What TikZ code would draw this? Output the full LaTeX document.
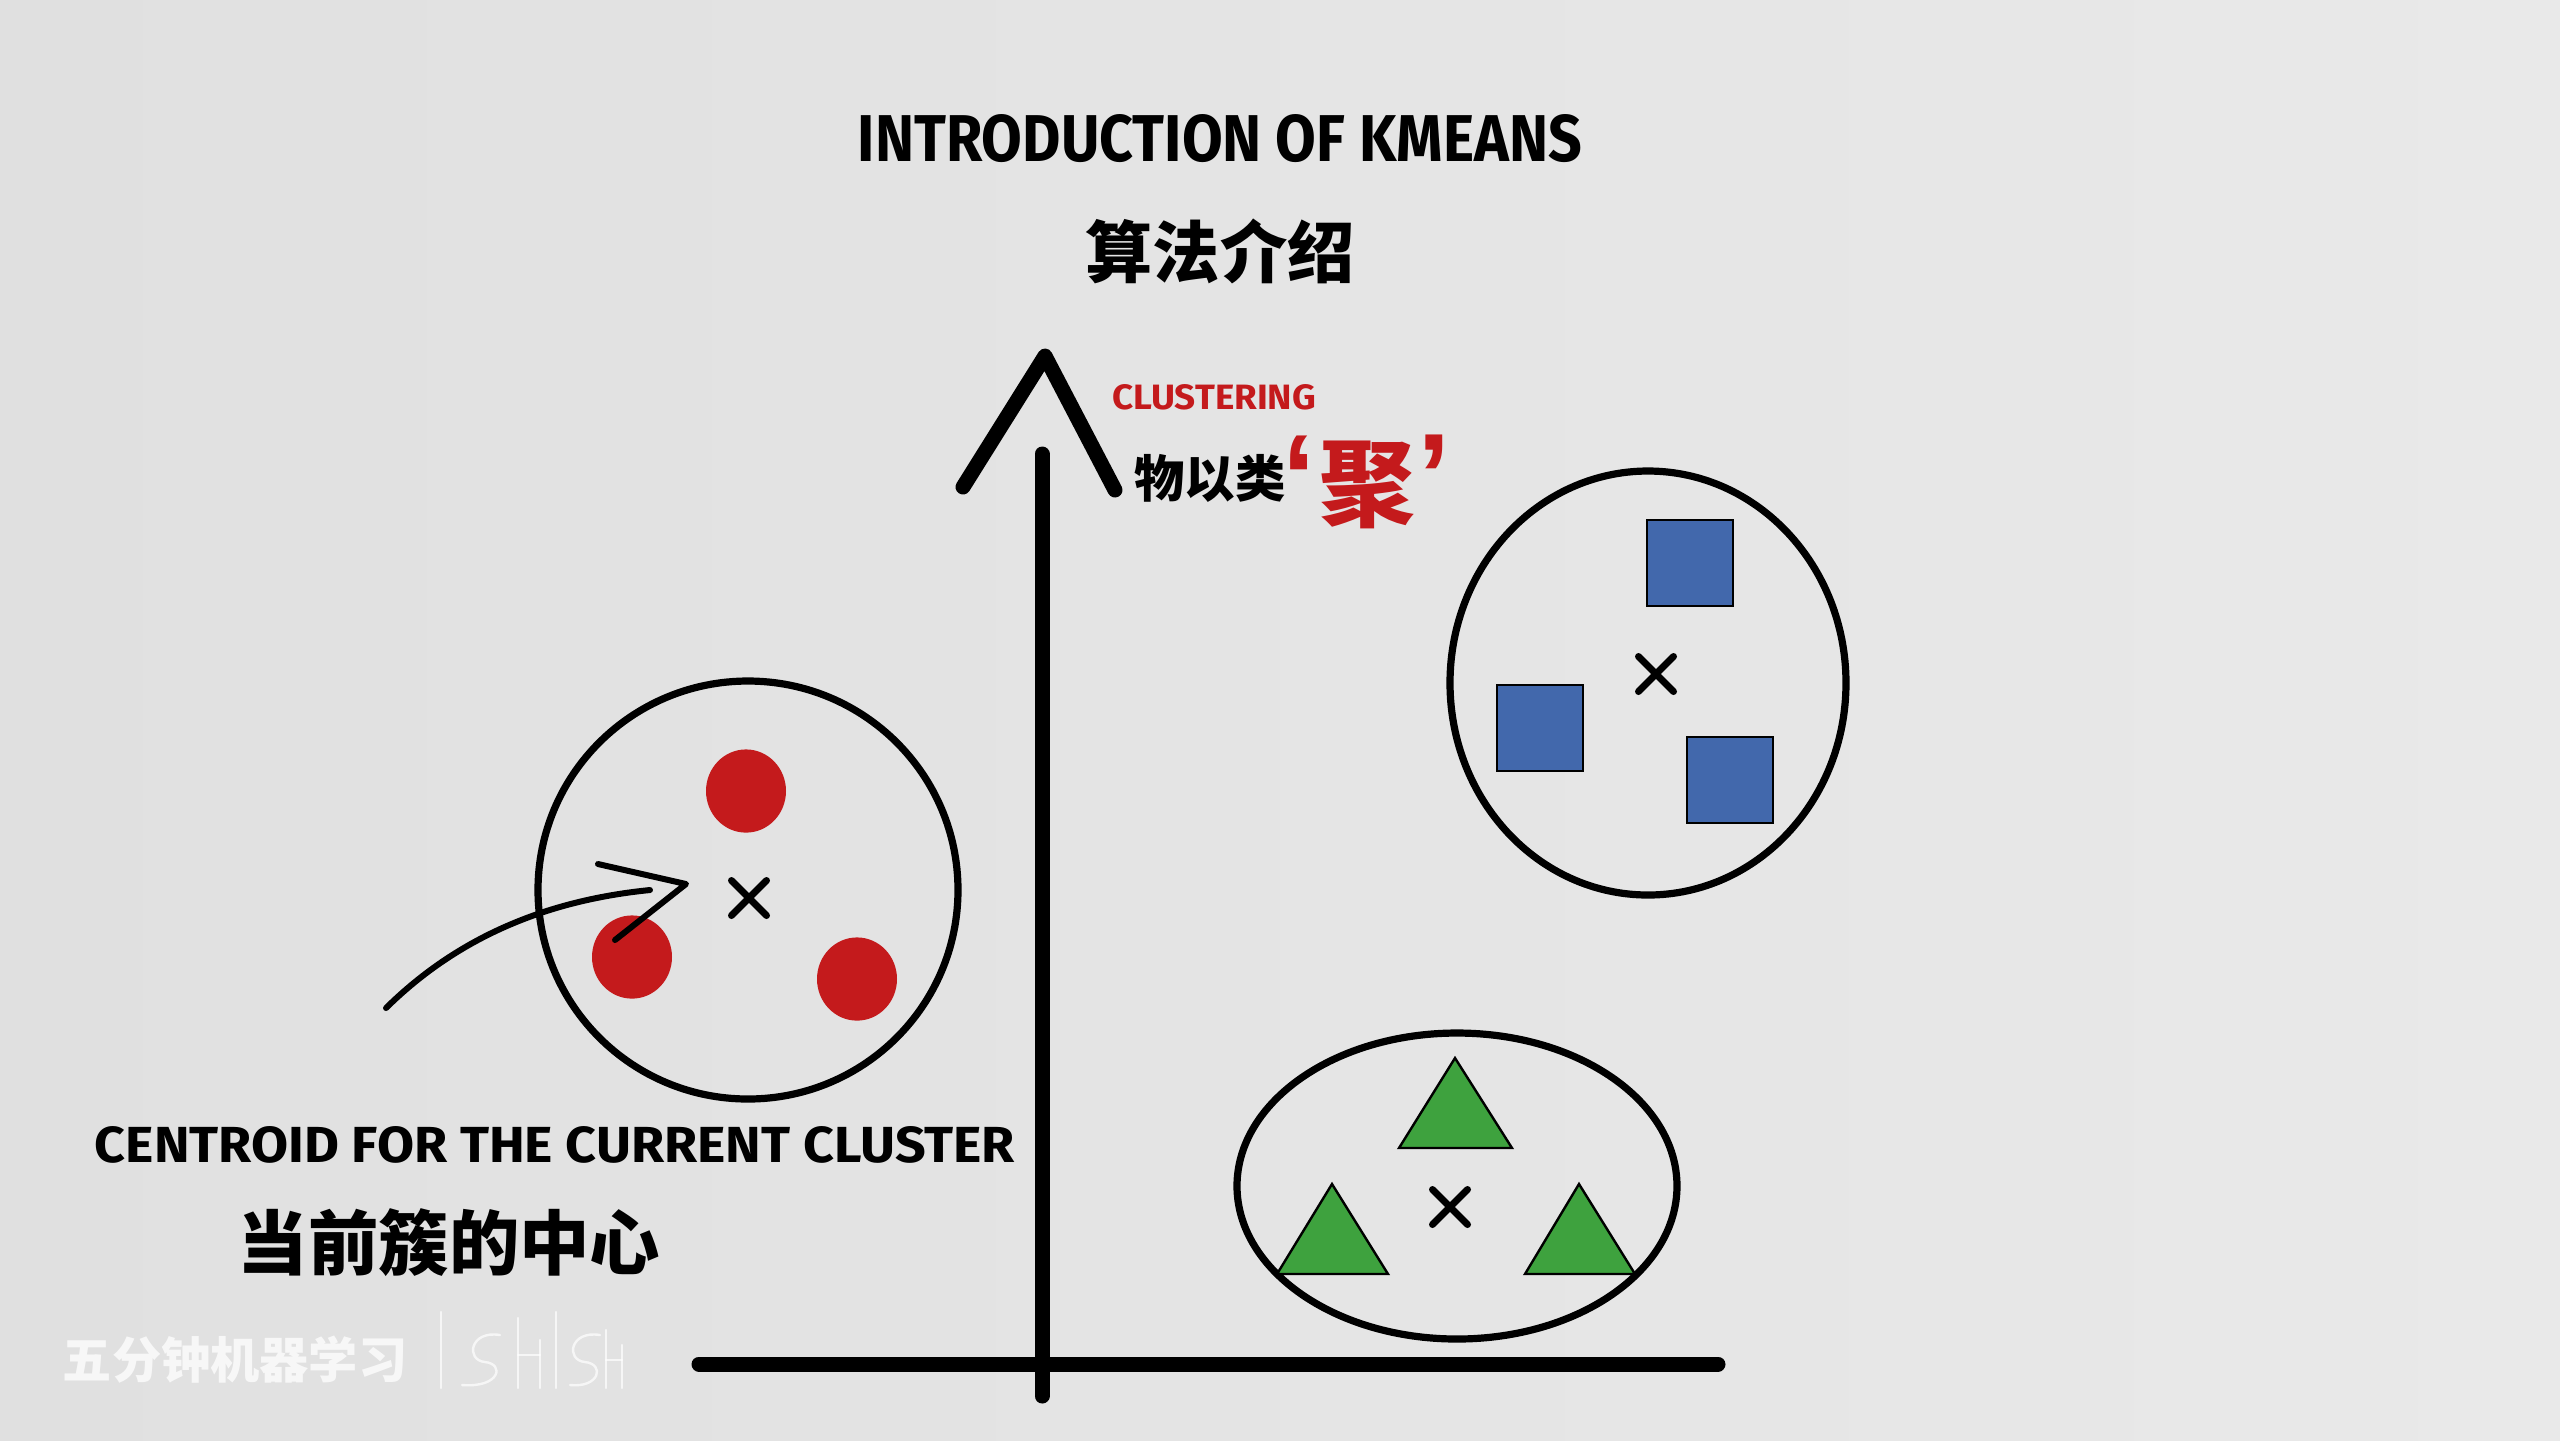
\documentclass[tikz,border=0pt]{standalone}
\usepackage{fontspec}
\usepackage{graphicx}
\setmainfont{Fira Sans}
\newfontfamily\cjk{Noto Sans CJK SC}[BoldFont={Noto Sans CJK SC Black}]
\usetikzlibrary{shapes.misc,shapes.geometric}
\definecolor{bgl}{RGB}{224,224,224}
\definecolor{bgr}{RGB}{233,233,233}
\definecolor{kred}{RGB}{196,26,28}
\definecolor{kblue}{RGB}{66,104,172}
\definecolor{kgreen}{RGB}{62,162,62}
\tikzset{
  axisline/.style={line width=3.75pt, line cap=round, line join=round},
  ring/.style={line width=1.8pt},
  centroid/.style={draw, cross out, minimum size=7pt, inner sep=0pt, line width=1.75pt, line cap=round},
  bsq/.style={draw, fill=kblue, line width=0.5pt, minimum size=21.5pt, inner sep=0pt},
  rdot/.style={fill=kred, ellipse, minimum width=20pt, minimum height=20.8pt, inner sep=0pt},
  gtri/.style={fill=kgreen, draw, line width=0.6pt, line join=miter},
  pointer/.style={line width=1.5pt, line cap=round, line join=round},
  txt/.style={inner sep=0pt, outer sep=0pt},
}
\newcommand{\fs}[1]{\fontsize{#1}{#1}\selectfont}
\begin{document}
\begin{tikzpicture}[x=0.25pt,y=-0.25pt]
\useasboundingbox (0,0) rectangle (2560,1440);
\shade[left color=bgl, right color=bgr] (0,0) rectangle (2560,1440);

% titles
\node[txt] (title) at (1220,139) {\resizebox{181pt}{11.75pt}{\bfseries INTRODUCTION OF KMEANS}};
\node[txt] (titlecn) at (1220,251) {\cjk\bfseries\fs{16.8pt}算法介绍};

% axes
\coordinate (yl) at (963,487);
\coordinate (yt) at (1045,356);
\coordinate (yr) at (1115,490);
\coordinate (ys) at (1042,454);
\coordinate (yb) at (1042,1396);
\coordinate (xl) at (699,1364);
\coordinate (xr) at (1718,1364);
\draw[axisline] (yl) -- (yt) -- (yr);
\draw[axisline] (ys) -- (yb);
\draw[axisline] (xl) -- (xr);

% clustering label
\node[txt] (clus) at (1214,397.5) {\color{kred}\resizebox{51pt}{6.25pt}{\bfseries CLUSTERING}};
\node[txt] (wyl) at (1210,478.5) {\cjk\bfseries\fs{12.6pt}物以类};
\node[txt, anchor=north] (q1) at (1299,436) {\color{kred}\fontspec{Liberation Sans}\bfseries\fs{30pt}‘};
\node[txt] (ju) at (1367,484.5) {\color{kred}\cjk\bfseries\fs{24pt}聚};
\node[txt, anchor=north] (q2) at (1434,435) {\color{kred}\fontspec{Liberation Sans}\bfseries\fs{30pt}’};

% blue cluster
\draw[ring] (1648,683) ellipse [x radius=49.5pt, y radius=53pt];
\node[bsq] (b1) at (1689.5,562.5) {};
\node[bsq] (b2) at (1539.5,727.5) {};
\node[bsq] (b3) at (1730,779.5) {};
\node[centroid] (cb) at (1656,674) {};

% red cluster
\draw[ring] (748,890) ellipse [x radius=52.5pt, y radius=52.25pt];
\node[rdot] (r1) at (746,791) {};
\node[rdot] (r2) at (632,957) {};
\node[rdot] (r3) at (857,979) {};
\node[centroid] (cr) at (749,898) {};

% green cluster
\draw[ring] (1457,1186) ellipse [x radius=55pt, y radius=38.25pt];
\draw[gtri] (1399,1148) -- (1455,1058) -- (1512,1148) -- cycle;
\draw[gtri] (1277,1274) -- (1332,1184) -- (1388,1274) -- cycle;
\draw[gtri] (1525,1274) -- (1579,1184) -- (1635,1274) -- cycle;
\node[centroid] (cg) at (1450,1207) {};

% pointer arrow
\coordinate (ps) at (386,1008);
\coordinate (pe) at (650,890);
\coordinate (pa) at (686,884);
\coordinate (pu) at (598,864);
\coordinate (pd) at (615,940);
\draw[pointer] (ps) .. controls (460,935) and (550,900) .. (pe);
\draw[pointer] (pu) -- (pa) -- (pd);

% centroid labels
\node[txt] (cen) at (555,1145) {\resizebox{230pt}{9pt}{\bfseries CENTROID FOR THE CURRENT CLUSTER}};
\node[txt] (cencn) at (449,1243) {\cjk\bfseries\fs{17.6pt}当前簇的中心};

% watermark
\node[txt, opacity=0.75] (wm) at (235,1360) {\color{white}\cjk\bfseries\fs{12.3pt}五分钟机器学习};
\begin{scope}[white, opacity=0.7, line width=0.6pt, line cap=round]
\draw (441,1312) -- (441,1388);
\draw (500,1335) .. controls (470,1330) and (465,1360) .. (485,1362) .. controls (505,1364) and (500,1388) .. (462,1385);
\draw (518,1318) -- (518,1388);
\draw (540,1340) -- (540,1388);
\draw (518,1355) -- (540,1355);
\draw (556,1312) -- (556,1388);
\draw (600,1335) .. controls (570,1330) and (565,1360) .. (585,1362) .. controls (605,1364) and (600,1388) .. (570,1385);
\draw (606,1330) -- (606,1388);
\draw (622,1345) -- (622,1388);
\draw (606,1360) -- (622,1360);
\end{scope}
\end{tikzpicture}
\end{document}
